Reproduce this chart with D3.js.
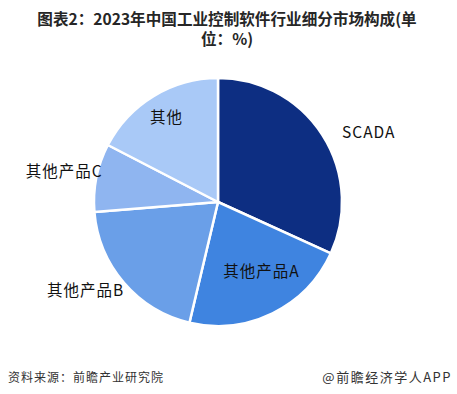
<!DOCTYPE html>
<html>
<head>
<meta charset="utf-8">
<script src="https://cdn.jsdelivr.net/npm/d3@7"></script>
<style>
  body { margin: 0; background: #fff; }
  svg { display: block; font-family: "Noto Sans CJK SC", "Noto Sans", sans-serif; }
</style>
</head>
<body>
<svg id="chart"></svg>
<script>
// data
const categories = ['SCADA', '其他产品A', '其他产品B', '其他产品C', '其他'];
const shares = [31.8, 21.9, 20.0, 8.9, 17.4];
const colors = ['#0d2e82', '#3f84e0', '#6a9fe8', '#8fb5f0', '#a9c9f7'];
const titleLines = ['图表2：2023年中国工业控制软件行业细分市场构成(单', '位：%)'];
const sourceText = '资料来源：前瞻产业研究院';
const creditText = '@前瞻经济学人APP';

const WIDTH = 457;
const HEIGHT = 394;
const CX = 218;
const CY = 202;
const RADIUS = 124;

// label placement: radius from centre and angle nudge (deg) per slice
const labelLayout = [
  { r: 166, da: 8 },
  { r: 82, da: -6 },
  { r: 159, da: 7 },
  { r: 157, da: 0 },
  { r: 99, da: 0 }
];

const svg = d3.select('#chart')
  .attr('width', WIDTH)
  .attr('height', HEIGHT);

svg.append('rect')
  .attr('width', WIDTH)
  .attr('height', HEIGHT)
  .attr('fill', '#fff');

// title
svg.append('g')
  .selectAll('text')
  .data(titleLines)
  .enter()
  .append('text')
  .attr('x', 227)
  .attr('y', (d, i) => 25 + i * 20)
  .attr('text-anchor', 'middle')
  .attr('font-size', 15.6)
  .attr('font-weight', 'bold')
  .attr('fill', '#262626')
  .text(d => d);

const data = categories.map((c, i) => ({ name: c, value: shares[i], color: colors[i] }));

const pie = d3.pie()
  .sort(null)
  .value(d => d.value);

const arc = d3.arc()
  .innerRadius(0)
  .outerRadius(RADIUS);

const chart = svg.append('g')
  .attr('transform', `translate(${CX}, ${CY})`);

const arcs = pie(data);

chart.selectAll('path')
  .data(arcs)
  .enter()
  .append('path')
  .attr('d', arc)
  .attr('fill', d => d.data.color)
  .attr('stroke', '#fff')
  .attr('stroke-width', 2.5)
  .attr('stroke-linejoin', 'round');

const midAngle = (d, i) => (d.startAngle + d.endAngle) / 2 + labelLayout[i].da * Math.PI / 180;

chart.selectAll('text.label')
  .data(arcs)
  .enter()
  .append('text')
  .attr('class', 'label')
  .attr('x', (d, i) => Math.sin(midAngle(d, i)) * labelLayout[i].r)
  .attr('y', (d, i) => -Math.cos(midAngle(d, i)) * labelLayout[i].r)
  .attr('dy', '0.35em')
  .attr('text-anchor', 'middle')
  .attr('font-size', 15.5)
  .attr('letter-spacing', 1)
  .attr('fill', '#111')
  .text(d => d.data.name);

// footer
svg.append('text')
  .attr('x', 8)
  .attr('y', 382)
  .attr('font-size', 12)
  .attr('letter-spacing', 1)
  .attr('fill', '#333')
  .text(sourceText);

svg.append('text')
  .attr('x', 452)
  .attr('y', 382)
  .attr('text-anchor', 'end')
  .attr('font-size', 13)
  .attr('letter-spacing', 1.5)
  .attr('fill', '#333')
  .text(creditText);
</script>
</body>
</html>
